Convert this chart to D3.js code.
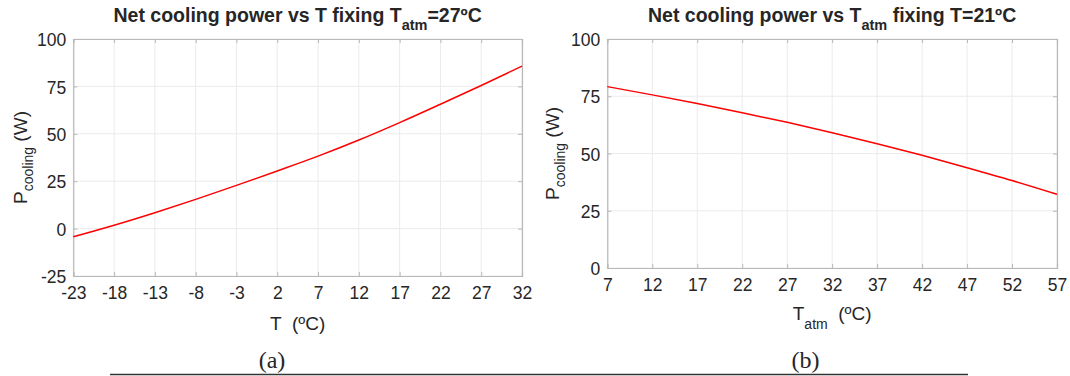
<!DOCTYPE html>
<html>
<head>
<meta charset="utf-8">
<script src="https://cdn.jsdelivr.net/npm/d3@7"></script>
<style>
  html, body { margin: 0; padding: 0; background: #fff; }
  svg { display: block; }
  text { font-family: "Liberation Sans", Arial, sans-serif; fill: #262626; white-space: pre; }
</style>
</head>
<body>
<svg id="fig" width="1070" height="376"></svg>
<script>
// Panel (a): net cooling power vs surface temperature T, with T_atm = 27 ºC
const tempT = [-23, -18, -13, -8, -3, 2, 7, 12, 17, 22, 27, 32];
const powerVsT = [-4.3, 1.8, 8.4, 15.4, 22.8, 30.4, 38.2, 46.7, 55.9, 65.6, 75.5, 85.7];
const ticksA_x = [-23, -18, -13, -8, -3, 2, 7, 12, 17, 22, 27, 32];
const ticksA_y = [-25, 0, 25, 50, 75, 100];

// Panel (b): net cooling power vs atmospheric temperature, with T = 21 ºC
const tempAtm = [7, 12, 17, 22, 27, 32, 37, 42, 47, 52, 57];
const powerVsAtm = [79.2, 75.6, 71.8, 67.8, 63.6, 59.1, 54.3, 49.2, 43.8, 38.2, 32.2];
const ticksB_x = [7, 12, 17, 22, 27, 32, 37, 42, 47, 52, 57];
const ticksB_y = [0, 25, 50, 75, 100];

const svg = d3.select("#fig");
const boxColor = "#b8b8b8";
const gridColor = "#ebebeb";
const plainNum = d => String(d);   // hyphen-minus, as printed on the axes

function panel(cfg) {
  const x = d3.scaleLinear().domain(cfg.xDomain).range([cfg.left, cfg.right]);
  const y = d3.scaleLinear().domain(cfg.yDomain).range([cfg.bottom, cfg.top]);
  const g = svg.append("g");

  // grid
  g.append("g").selectAll("line").data(cfg.xTicks).join("line")
    .attr("x1", d => x(d)).attr("x2", d => x(d))
    .attr("y1", cfg.top).attr("y2", cfg.bottom)
    .attr("stroke", gridColor).attr("stroke-width", 1);
  g.append("g").selectAll("line").data(cfg.yTicks).join("line")
    .attr("x1", cfg.left).attr("x2", cfg.right)
    .attr("y1", d => y(d)).attr("y2", d => y(d))
    .attr("stroke", gridColor).attr("stroke-width", 1);

  // axes with inward ticks
  const axB = g.append("g").attr("transform", `translate(0,${cfg.bottom})`)
    .call(d3.axisBottom(x).tickValues(cfg.xTicks).tickSize(-4).tickPadding(11).tickFormat(plainNum));
  const axT = g.append("g").attr("transform", `translate(0,${cfg.top})`)
    .call(d3.axisTop(x).tickValues(cfg.xTicks).tickSize(-4).tickFormat(""));
  const axL = g.append("g").attr("transform", `translate(${cfg.left},0)`)
    .call(d3.axisLeft(y).tickValues(cfg.yTicks).tickSize(-4).tickPadding(7).tickFormat(plainNum));
  const axR = g.append("g").attr("transform", `translate(${cfg.right},0)`)
    .call(d3.axisRight(y).tickValues(cfg.yTicks).tickSize(-4).tickFormat(""));
  [axB, axT, axL, axR].forEach(a => {
    a.select(".domain").attr("stroke", boxColor).attr("stroke-width", 1.2);
    a.selectAll(".tick line").attr("stroke", boxColor);
    a.selectAll(".tick text").attr("fill", "#262626")
      .style("font-family", '"Liberation Sans", Arial, sans-serif').style("font-size", "17.5px");
  });
  axL.selectAll(".tick text").attr("dy", "0.38em");

  // curve
  const line = d3.line().x(d => x(d[0])).y(d => y(d[1])).curve(d3.curveMonotoneX);
  g.append("path").datum(d3.zip(cfg.xs, cfg.ys))
    .attr("d", line).attr("fill", "none")
    .attr("stroke", "#ff0000").attr("stroke-width", 1.5);

  const cx = (cfg.left + cfg.right) / 2;
  const cy = (cfg.top + cfg.bottom) / 2;

  // title
  const t = g.append("text").attr("x", cx).attr("y", 22).attr("text-anchor", "middle")
    .style("font-size", "19.5px").style("font-weight", "bold").attr("fill", "#000");
  cfg.title(t);

  // y label
  const yl = g.append("text")
    .attr("transform", `translate(${cfg.ylabelX},${cy}) rotate(-90)`)
    .attr("text-anchor", "middle").style("font-size", "19px");
  yl.append("tspan").text("P");
  yl.append("tspan").attr("dy", 6).style("font-size", "14px").text("cooling");
  yl.append("tspan").attr("dy", -6).text(" (W)");

  // x label
  const xl = g.append("text").attr("x", cx).attr("y", cfg.xlabelY)
    .attr("text-anchor", "middle").style("font-size", "19px");
  cfg.xlabel(xl);

  // caption
  g.append("text").attr("x", cfg.captionX).attr("y", 368).attr("text-anchor", "middle")
    .style("font-family", '"Liberation Serif", "DejaVu Serif", serif')
    .style("font-size", "24px").attr("fill", "#111").text(cfg.caption);
}

panel({
  xDomain: [-23, 32], yDomain: [-25, 100],
  left: 73.3, right: 522, top: 39, bottom: 276,
  xTicks: ticksA_x, yTicks: ticksA_y, xs: tempT, ys: powerVsT,
  ylabelX: 27, xlabelY: 330, captionX: 272, caption: "(a)",
  title: t => {
    t.append("tspan").text("Net cooling power vs T fixing T");
    t.append("tspan").attr("dy", 8).style("font-size", "14.5px").text("atm");
    t.append("tspan").attr("dy", -8).text("=27ºC");
  },
  xlabel: t => t.text("T  (ºC)")
});

panel({
  xDomain: [7, 57], yDomain: [0, 100],
  left: 607.3, right: 1057, top: 39, bottom: 268,
  xTicks: ticksB_x, yTicks: ticksB_y, xs: tempAtm, ys: powerVsAtm,
  ylabelX: 559, xlabelY: 320, captionX: 805.5, caption: "(b)",
  title: t => {
    t.append("tspan").text("Net cooling power vs T");
    t.append("tspan").attr("dy", 8).style("font-size", "14.5px").text("atm");
    t.append("tspan").attr("dy", -8).text(" fixing T=21ºC");
  },
  xlabel: t => {
    t.append("tspan").text("T");
    t.append("tspan").attr("dy", 9).style("font-size", "14px").text("atm");
    t.append("tspan").attr("dy", -9).text("  (ºC)");
  }
});

// separator rule under the captions
svg.append("line").attr("x1", 110).attr("x2", 968).attr("y1", 374.5).attr("y2", 374.5)
  .attr("stroke", "#333").attr("stroke-width", 1.5);
</script>
</body>
</html>
